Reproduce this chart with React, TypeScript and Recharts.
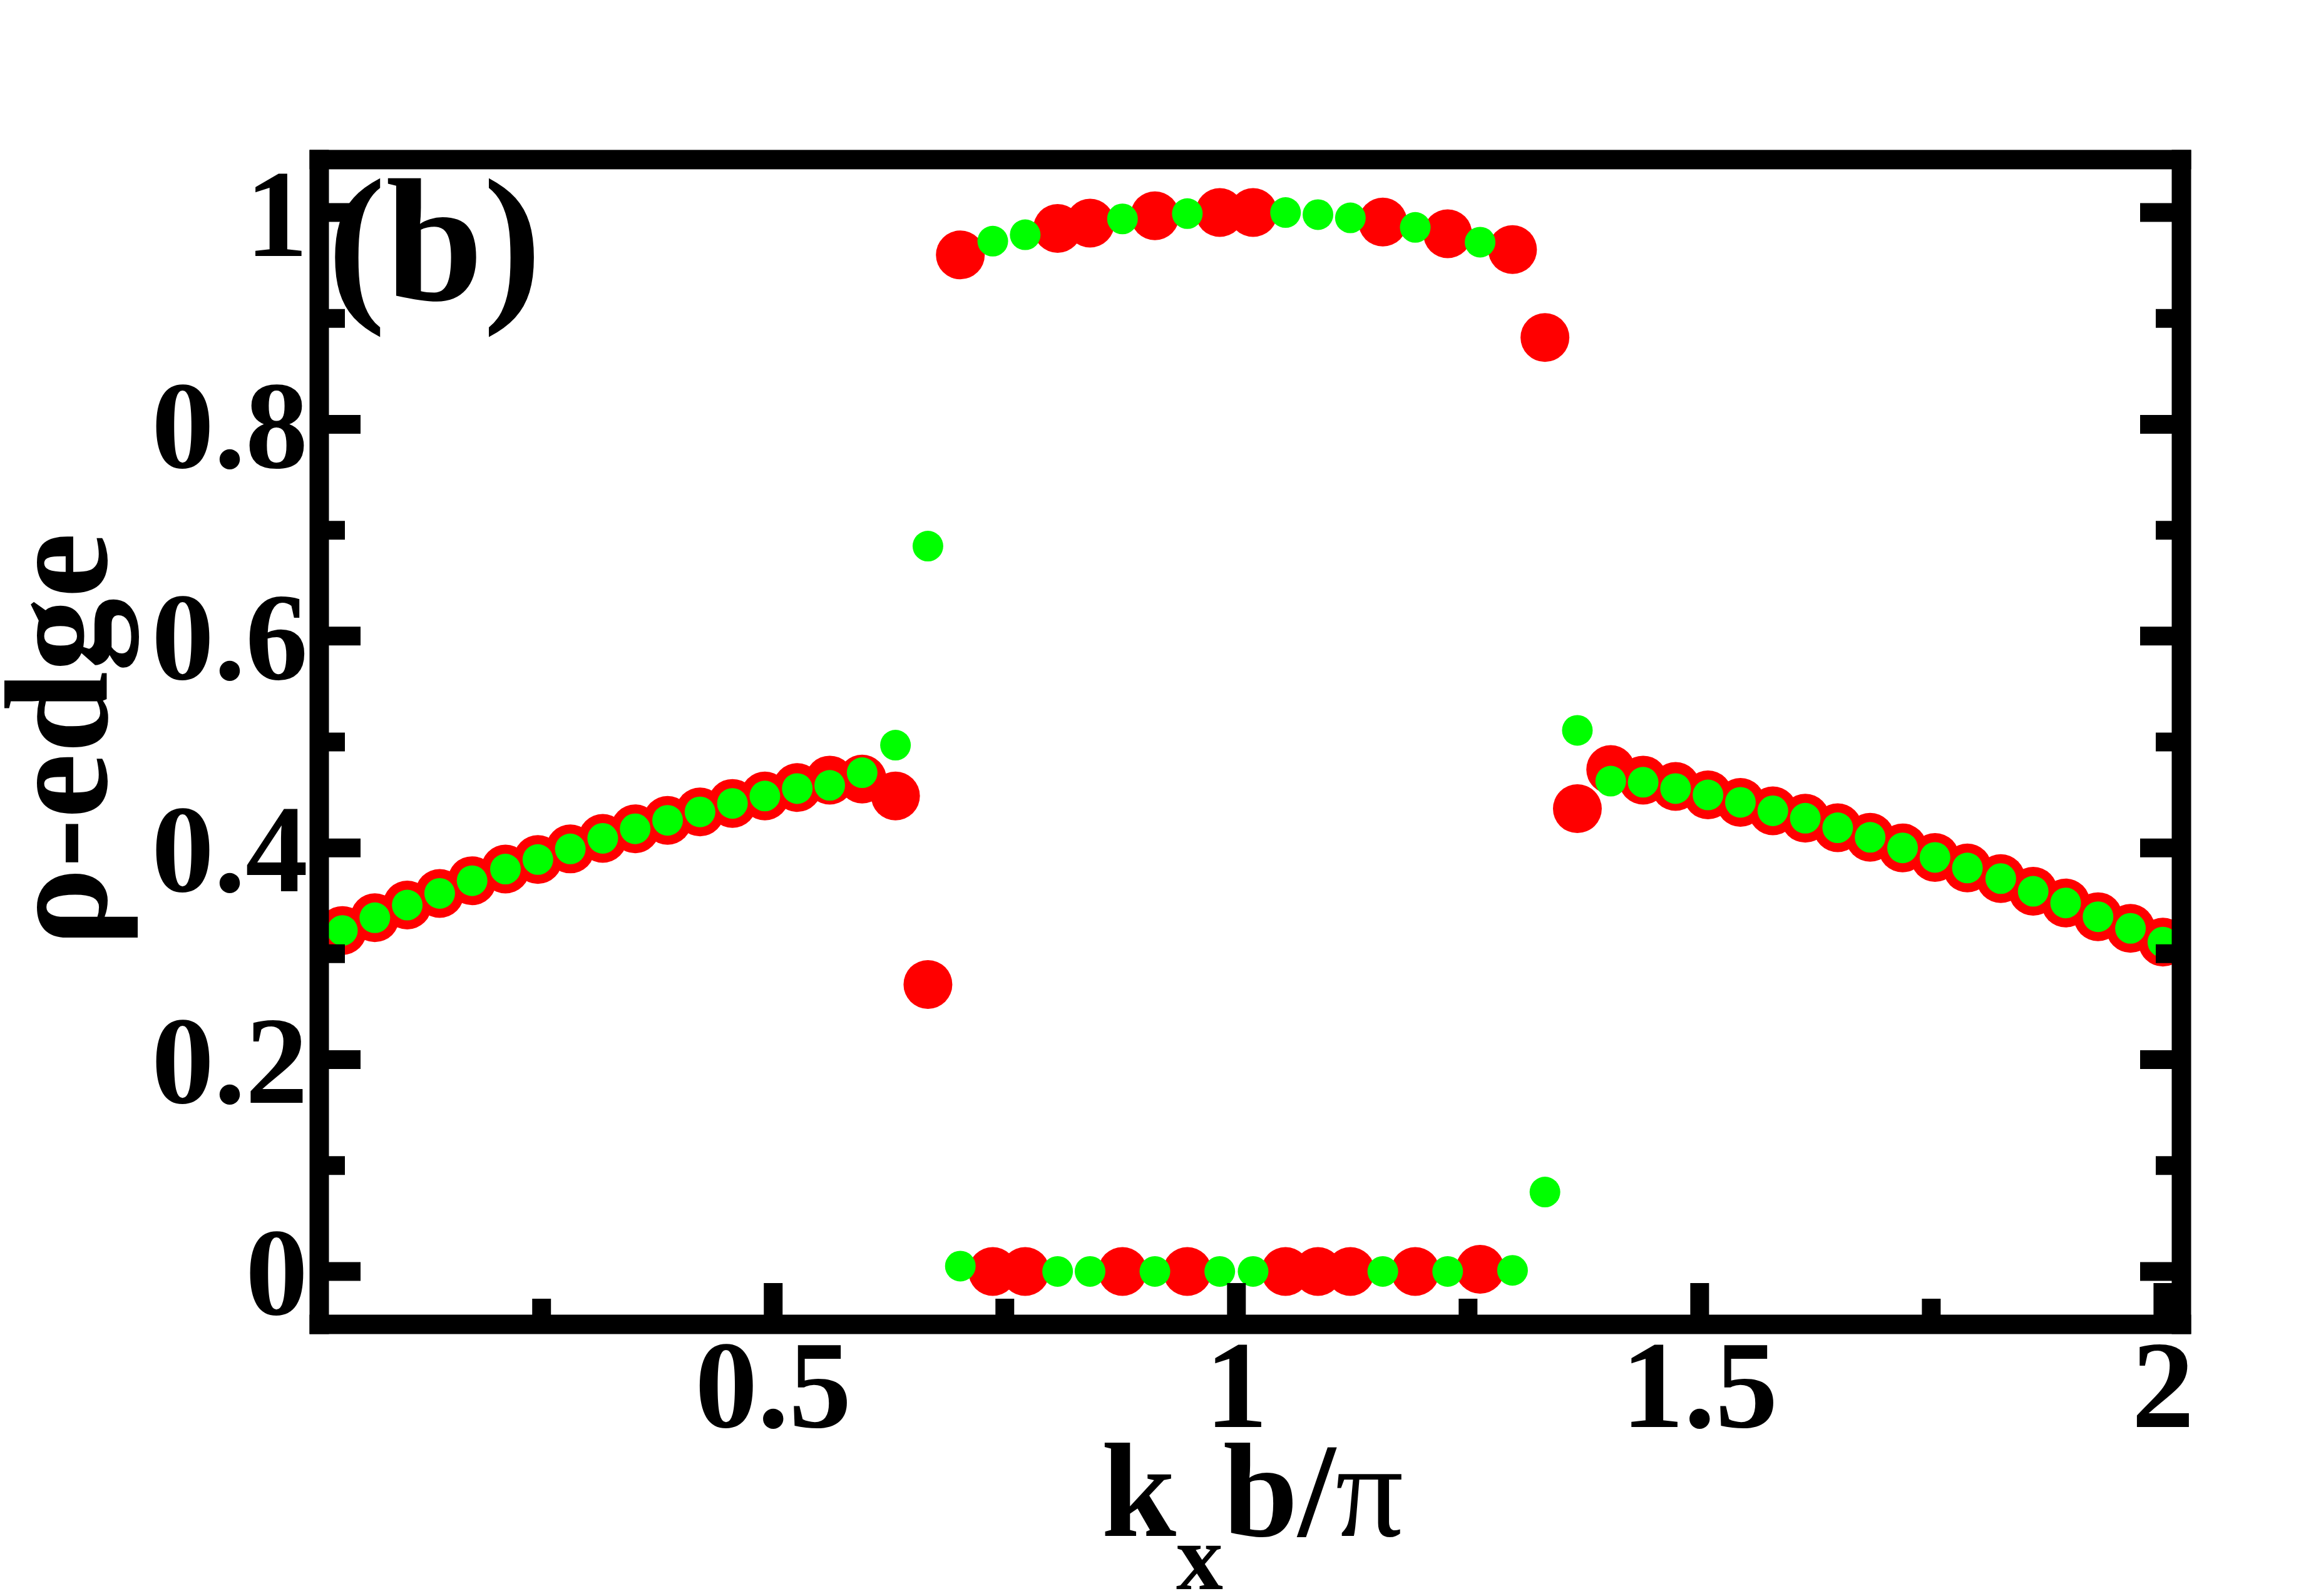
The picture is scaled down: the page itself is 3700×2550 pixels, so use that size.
import { Scatter, ScatterChart, XAxis, YAxis } from 'recharts';

// k_x b / pi sample points
const kx = [
  0.035, 0.07, 0.105, 0.14, 0.175, 0.211, 0.246, 0.281, 0.316, 0.351,
  0.386, 0.421, 0.456, 0.491, 0.526, 0.561, 0.596, 0.632, 0.667, 0.702,
  0.737, 0.772, 0.807, 0.842, 0.877, 0.912, 0.947, 0.982, 1.018, 1.053,
  1.088, 1.123, 1.158, 1.193, 1.228, 1.263, 1.298, 1.333, 1.368, 1.404,
  1.439, 1.474, 1.509, 1.544, 1.579, 1.614, 1.649, 1.684, 1.719, 1.754,
  1.789, 1.825, 1.86, 1.895, 1.93, 1.965, 2.0,
];

// rho-edge, red (large) markers
const rhoRed = [
  0.322, 0.334, 0.346, 0.357, 0.369, 0.38, 0.389, 0.399, 0.409, 0.418,
  0.426, 0.434, 0.442, 0.449, 0.457, 0.464, 0.465, 0.449, 0.271, 0.96,
  0.0, 0.0, 0.985, 0.99, 0.0, 0.997, 0.0, 1.0, 1.0, 0.0,
  0.0, 0.0, 0.991, 0.0, 0.98, 0.002, 0.965, 0.882, 0.437, 0.474,
  0.464, 0.458, 0.45, 0.443, 0.435, 0.428, 0.419, 0.41, 0.4, 0.391,
  0.381, 0.371, 0.359, 0.348, 0.335, 0.324, 0.311,
];

// rho-edge, green (small) markers
const rhoGreen = [
  0.322, 0.334, 0.346, 0.357, 0.369, 0.38, 0.389, 0.399, 0.409, 0.418,
  0.426, 0.434, 0.442, 0.449, 0.456, 0.459, 0.471, 0.497, 0.685, 0.005,
  0.973, 0.979, 0.0, 0.0, 0.994, 0.0, 0.999, 0.0, 0.0, 1.0,
  0.998, 0.995, 0.0, 0.986, 0.0, 0.972, 0.001, 0.075, 0.511, 0.463,
  0.462, 0.456, 0.45, 0.443, 0.435, 0.428, 0.419, 0.41, 0.4, 0.391,
  0.381, 0.371, 0.359, 0.348, 0.335, 0.324, 0.311,
];

const xTicks = [0.25, 0.5, 0.75, 1, 1.25, 1.5, 1.75, 2];
const xTickLabels = ['', '0.5', '', '1', '', '1.5', '', '2'];
const yTicks = [0, 0.1, 0.2, 0.3, 0.4, 0.5, 0.6, 0.7, 0.8, 0.9, 1];
const yTickLabels = ['0', '', '0.2', '', '0.4', '', '0.6', '', '0.8', '', '1'];

const redData = kx.map((x, i) => ({ x, y: rhoRed[i] }));
const greenData = kx.map((x, i) => ({ x, y: rhoGreen[i] }));

const FONT = '"Liberation Serif", "Times New Roman", serif';
const FRAME = 31;
const MAJOR = 66;
const MINOR = 41;
const TICK_W = 30;
const TICK_FONT = 200;
const AXIS_Z = 2000;

const frameLine = { stroke: '#000', strokeWidth: FRAME, strokeLinecap: 'square' as const };

function xLabel(value: number) {
  const i = xTicks.indexOf(value);
  return i >= 0 ? xTickLabels[i] : '';
}

function yLabel(value: number) {
  const i = yTicks.findIndex((t) => Math.abs(t - value) < 1e-6);
  return i >= 0 ? yTickLabels[i] : '';
}

function BottomTick(props: any) {
  const { x, y, payload } = props;
  const label = xLabel(payload.value);
  const len = label ? MAJOR : MINOR;
  return (
    <g>
      <line x1={x} y1={y} x2={x} y2={y - len} stroke="#000" strokeWidth={TICK_W} />
      {label && (
        <text x={x} y={y + 164} textAnchor="middle" fontFamily={FONT} fontWeight="bold" fontSize={TICK_FONT} fill="#000">
          {label}
        </text>
      )}
    </g>
  );
}

function TopTick(props: any) {
  const { x, y, payload } = props;
  const len = xLabel(payload.value) ? MAJOR : MINOR;
  return <line x1={x} y1={y} x2={x} y2={y + len} stroke="#000" strokeWidth={TICK_W} />;
}

function LeftTick(props: any) {
  const { x, y, payload } = props;
  const label = yLabel(payload.value);
  const len = label ? MAJOR : MINOR;
  return (
    <g>
      <line x1={x} y1={y} x2={x + len} y2={y} stroke="#000" strokeWidth={TICK_W} />
      {label && (
        <text x={x - 18} y={y + 69} textAnchor="end" fontFamily={FONT} fontWeight="bold" fontSize={TICK_FONT} fill="#000">
          {label}
        </text>
      )}
    </g>
  );
}

function RightTick(props: any) {
  const { x, y, payload } = props;
  const len = yLabel(payload.value) ? MAJOR : MINOR;
  return <line x1={x} y1={y} x2={x - len} y2={y} stroke="#000" strokeWidth={TICK_W} />;
}

function XTitle(props: any) {
  const vb = props.viewBox ?? { x: 510, y: 2116, width: 2975, height: 100 };
  const x = vb.x + vb.width / 2 - 238;
  const y = vb.y + 338;
  return (
    <text x={x} y={y} fontFamily={FONT} fontWeight="bold" fontSize={215} fill="#000">
      <tspan>k</tspan>
      <tspan dy={85} fontSize={150}>x</tspan>
      <tspan dy={-85}>b/</tspan>
      <tspan fontWeight="normal">π</tspan>
    </text>
  );
}

function YTitle(props: any) {
  const vb = props.viewBox ?? { x: 410, y: 255, width: 100, height: 1861 };
  const cx = vb.x - 240;
  const cy = vb.y + vb.height / 2 - 4;
  return (
    <text
      x={cx}
      y={cy}
      transform={`rotate(-90 ${cx} ${cy})`}
      textAnchor="middle"
      fontFamily={FONT}
      fontWeight="bold"
      fontSize={235}
      fill="#000"
    >
      ρ-edge
    </text>
  );
}

function PanelTag(props: any) {
  const vb = props.viewBox ?? { x: 510, y: 245, width: 2975, height: 10 };
  return (
    <text x={vb.x + 13} y={vb.y + vb.height + 224} fontFamily={FONT} fontWeight="bold" fontSize={280} fill="#000">
      (b)
    </text>
  );
}

const redDot = (p: any) => <circle cx={p.cx} cy={p.cy} r={39} fill="#ff0000" />;
const greenDot = (p: any) => <circle cx={p.cx} cy={p.cy} r={24.5} fill="#00ff00" />;

export default function App() {
  return (
    <div style={{ position: 'absolute', left: 0, top: 0, background: '#fff' }}>
      <ScatterChart width={3700} height={2550} margin={{ top: 245, right: 205, bottom: 334, left: 410 }}>
        <XAxis
          xAxisId="b"
          dataKey="x"
          type="number"
          domain={[0.01, 2.02]}
          allowDataOverflow
          ticks={xTicks}
          interval={0}
          height={100}
          tickSize={0}
          tickMargin={0}
          tickLine={false}
          axisLine={frameLine}
          tick={<BottomTick />}
          label={<XTitle />}
          zIndex={AXIS_Z}
        />
        <XAxis
          xAxisId="t"
          orientation="top"
          type="number"
          domain={[0.01, 2.02]}
          allowDataOverflow
          ticks={xTicks}
          interval={0}
          height={10}
          tickSize={0}
          tickMargin={0}
          tickLine={false}
          axisLine={frameLine}
          tick={<TopTick />}
          label={<PanelTag />}
          zIndex={AXIS_Z}
        />
        <YAxis
          yAxisId="l"
          dataKey="y"
          type="number"
          domain={[-0.05, 1.05]}
          allowDataOverflow
          ticks={yTicks}
          interval={0}
          width={100}
          tickSize={0}
          tickMargin={0}
          tickLine={false}
          axisLine={frameLine}
          tick={<LeftTick />}
          label={<YTitle />}
          zIndex={AXIS_Z}
        />
        <YAxis
          yAxisId="r"
          orientation="right"
          type="number"
          domain={[-0.05, 1.05]}
          allowDataOverflow
          ticks={yTicks}
          interval={0}
          width={10}
          tickSize={0}
          tickMargin={0}
          tickLine={false}
          axisLine={frameLine}
          tick={<RightTick />}
          zIndex={AXIS_Z}
        />
        <Scatter xAxisId="b" yAxisId="l" data={redData} shape={redDot} isAnimationActive={false} />
        <Scatter xAxisId="b" yAxisId="l" data={greenData} shape={greenDot} isAnimationActive={false} />
      </ScatterChart>
    </div>
  );
}
